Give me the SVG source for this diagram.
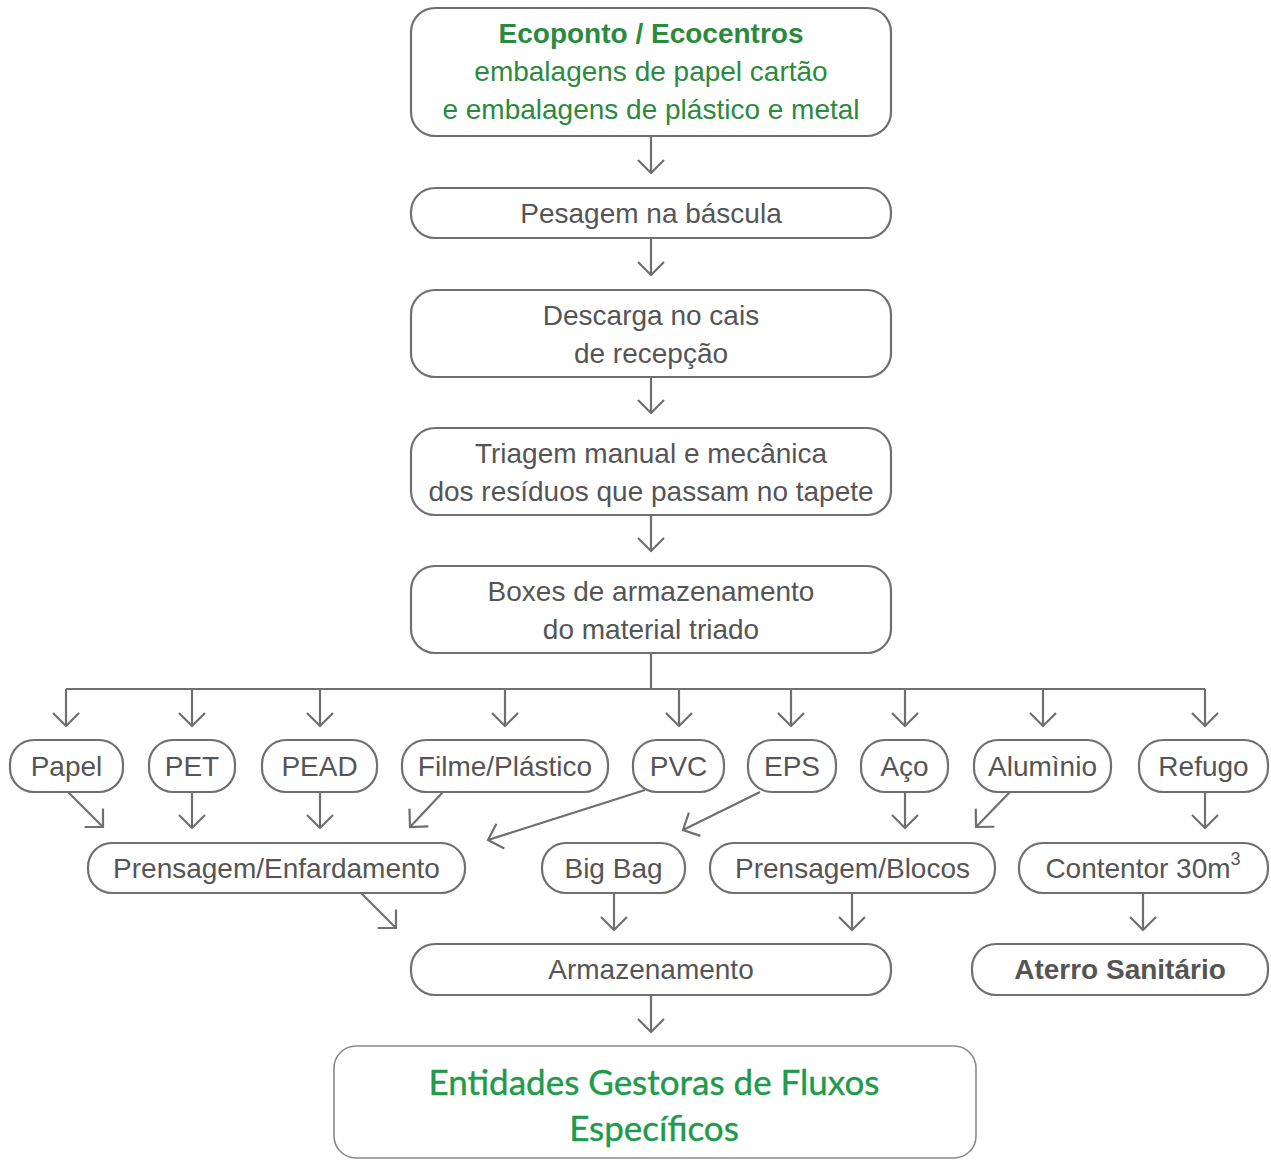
<svg xmlns="http://www.w3.org/2000/svg" width="1271" height="1160" viewBox="0 0 1271 1160">
<style>
.box{fill:#fff;stroke:#6f6f6f;stroke-width:2.2}
.t{font-family:"Liberation Sans",Arial,sans-serif;font-size:28px;fill:#555;text-anchor:middle;dominant-baseline:central}
.g{fill:#2b8a3e}
.b{font-weight:bold}
.c{fill:none;stroke:#6f6f6f;stroke-width:2.2}
.big{font-family:Lato,"Open Sans",sans-serif;font-size:35px;fill:#1f9a4a;stroke:#1f9a4a;stroke-width:0.4;text-anchor:middle;dominant-baseline:central}
</style>
<defs>
<marker id="ah" viewBox="0 0 28 28" refX="26" refY="14" markerWidth="28" markerHeight="28" markerUnits="userSpaceOnUse" orient="auto">
<path d="M13,1 L26,14 L13,27" fill="none" stroke="#6f6f6f" stroke-width="2.2"/>
</marker>
</defs>
<rect width="1271" height="1160" fill="#fff"/>

<g id="connectors">
<line class="c" x1="651" y1="136" x2="651" y2="173" marker-end="url(#ah)"/>
<line class="c" x1="651" y1="238" x2="651" y2="275" marker-end="url(#ah)"/>
<line class="c" x1="651" y1="377" x2="651" y2="413" marker-end="url(#ah)"/>
<line class="c" x1="651" y1="515" x2="651" y2="551" marker-end="url(#ah)"/>
<path class="c" d="M651,653 V689 M66,689 H1205"/>
<line class="c" x1="66" y1="689" x2="66" y2="726" marker-end="url(#ah)"/>
<line class="c" x1="192" y1="689" x2="192" y2="726" marker-end="url(#ah)"/>
<line class="c" x1="320" y1="689" x2="320" y2="726" marker-end="url(#ah)"/>
<line class="c" x1="505" y1="689" x2="505" y2="726" marker-end="url(#ah)"/>
<line class="c" x1="679" y1="689" x2="679" y2="726" marker-end="url(#ah)"/>
<line class="c" x1="791" y1="689" x2="791" y2="726" marker-end="url(#ah)"/>
<line class="c" x1="905" y1="689" x2="905" y2="726" marker-end="url(#ah)"/>
<line class="c" x1="1043" y1="689" x2="1043" y2="726" marker-end="url(#ah)"/>
<line class="c" x1="1205" y1="689" x2="1205" y2="726" marker-end="url(#ah)"/>

<line class="c" x1="68" y1="792" x2="103" y2="827" marker-end="url(#ah)"/>
<line class="c" x1="192" y1="792" x2="192" y2="828" marker-end="url(#ah)"/>
<line class="c" x1="320" y1="792" x2="320" y2="828" marker-end="url(#ah)"/>
<line class="c" x1="443" y1="792" x2="410" y2="827" marker-end="url(#ah)"/>
<line class="c" x1="645" y1="790" x2="488" y2="840" marker-end="url(#ah)"/>
<line class="c" x1="760" y1="792" x2="683" y2="830" marker-end="url(#ah)"/>
<line class="c" x1="905" y1="792" x2="905" y2="828" marker-end="url(#ah)"/>
<line class="c" x1="1010" y1="792" x2="976" y2="827" marker-end="url(#ah)"/>
<line class="c" x1="1205" y1="792" x2="1205" y2="828" marker-end="url(#ah)"/>

<line class="c" x1="361" y1="893" x2="396" y2="928" marker-end="url(#ah)"/>
<line class="c" x1="614" y1="893" x2="614" y2="930" marker-end="url(#ah)"/>
<line class="c" x1="852" y1="893" x2="852" y2="930" marker-end="url(#ah)"/>
<line class="c" x1="1143" y1="893" x2="1143" y2="930" marker-end="url(#ah)"/>
<line class="c" x1="651" y1="995" x2="651" y2="1032" marker-end="url(#ah)"/>
</g>

<g id="ecoponto">
<rect class="box" x="411" y="8" width="480" height="128" rx="24"/>
<text class="t g b" x="651" y="33">Ecoponto / Ecocentros</text>
<text class="t g" x="651" y="71">embalagens de papel cartão</text>
<text class="t g" x="651" y="109">e embalagens de plástico e metal</text>
</g>
<g id="pesagem">
<rect class="box" x="411" y="188" width="480" height="50" rx="24"/>
<text class="t" x="651" y="213">Pesagem na báscula</text>
</g>
<g id="descarga">
<rect class="box" x="411" y="290" width="480" height="87" rx="24"/>
<text class="t" x="651" y="315">Descarga no cais</text>
<text class="t" x="651" y="353">de recepção</text>
</g>
<g id="triagem">
<rect class="box" x="411" y="428" width="480" height="87" rx="24"/>
<text class="t" x="651" y="453">Triagem manual e mecânica</text>
<text class="t" x="651" y="491">dos resíduos que passam no tapete</text>
</g>
<g id="boxes">
<rect class="box" x="411" y="566" width="480" height="87" rx="24"/>
<text class="t" x="651" y="591">Boxes de armazenamento</text>
<text class="t" x="651" y="629">do material triado</text>
</g>

<g id="papel"><rect class="box" x="10" y="740" width="113" height="52" rx="24"/><text class="t" x="66.5" y="766">Papel</text></g>
<g id="pet"><rect class="box" x="149" y="740" width="86" height="52" rx="24"/><text class="t" x="192" y="766">PET</text></g>
<g id="pead"><rect class="box" x="262" y="740" width="115" height="52" rx="24"/><text class="t" x="319.5" y="766">PEAD</text></g>
<g id="filme"><rect class="box" x="402" y="740" width="206" height="52" rx="24"/><text class="t" x="505" y="766">Filme/Plástico</text></g>
<g id="pvc"><rect class="box" x="633" y="740" width="91" height="52" rx="24"/><text class="t" x="678.5" y="766">PVC</text></g>
<g id="eps"><rect class="box" x="748" y="740" width="88" height="52" rx="24"/><text class="t" x="792" y="766">EPS</text></g>
<g id="aco"><rect class="box" x="861" y="740" width="87" height="52" rx="24"/><text class="t" x="904.5" y="766">Aço</text></g>
<g id="aluminio"><rect class="box" x="974" y="740" width="137" height="52" rx="24"/><text class="t" x="1042.5" y="766">Alumìnio</text></g>
<g id="refugo"><rect class="box" x="1139" y="740" width="129" height="52" rx="24"/><text class="t" x="1203.5" y="766">Refugo</text></g>

<g id="enfardamento"><rect class="box" x="88" y="843" width="377" height="50" rx="24"/><text class="t" x="276.5" y="868">Prensagem/Enfardamento</text></g>
<g id="bigbag"><rect class="box" x="542" y="843" width="143" height="50" rx="24"/><text class="t" x="613.5" y="868">Big Bag</text></g>
<g id="blocos"><rect class="box" x="710" y="843" width="285" height="50" rx="24"/><text class="t" x="852.5" y="868">Prensagem/Blocos</text></g>
<g id="contentor"><rect class="box" x="1019" y="843" width="249" height="50" rx="24"/><text class="t" x="1143" y="868">Contentor 30m<tspan font-size="18" dy="-9">3</tspan></text></g>

<g id="armazenamento"><rect class="box" x="411" y="944" width="480" height="51" rx="24"/><text class="t" x="651" y="969">Armazenamento</text></g>
<g id="aterro"><rect class="box" x="972" y="944" width="296" height="51" rx="24"/><text class="t b" x="1120" y="969">Aterro Sanitário</text></g>

<g id="entidades">
<rect x="334" y="1046" width="642" height="112" rx="22" fill="#fff" stroke="#8a8a8a" stroke-width="1.6"/>
<text class="big" x="654" y="1081">Entidades Gestoras de Fluxos</text>
<text class="big" x="654" y="1127">Específicos</text>
</g>
</svg>
